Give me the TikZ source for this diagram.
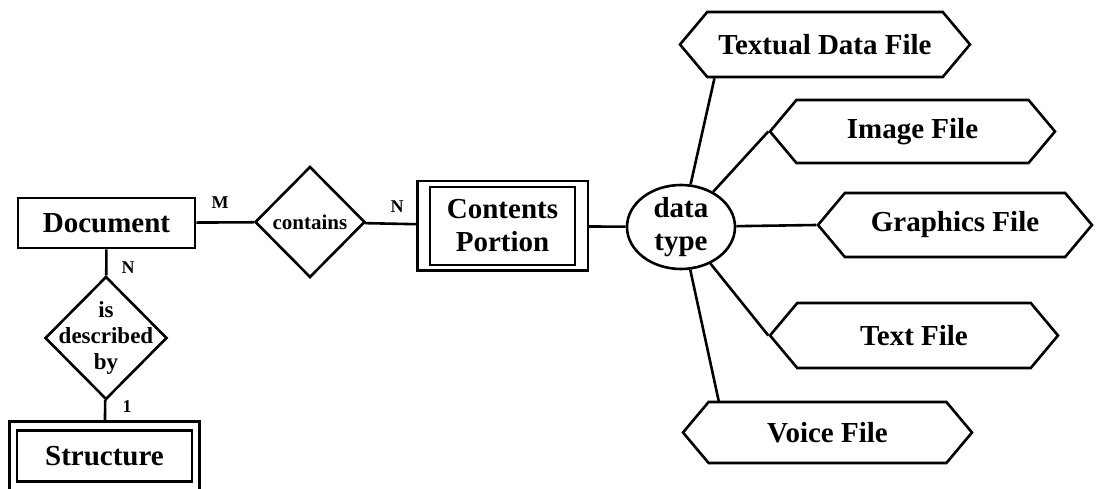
\documentclass[tikz,border=0pt]{standalone}
\usepackage{fontspec}
\setmainfont{Liberation Serif}
\usetikzlibrary{shapes.geometric, shapes.symbols, fit}

\begin{document}
\begin{tikzpicture}[x=1pt, y=-1pt, line width=2.6pt,
     every node/.style={font=\bfseries\fontsize{29}{33}\selectfont, inner sep=0pt, align=center},
     entity/.style={rectangle, draw},
     relation/.style={diamond, draw, shape aspect=1},
     attrib/.style={ellipse, draw},
     filekind/.style={signal, draw, signal to=west and east, signal pointer angle=100},
     card/.style={font=\bfseries\fontsize{18}{20}\selectfont}]
     \useasboundingbox (0,0) rectangle (1096,489);
     \clip (0,0) rectangle (1096,489);

     \node[entity, minimum width=177pt, minimum height=50pt] (doc) at (106.5,223) {Document};
     \node[relation, minimum width=110pt, minimum height=111pt, font=\bfseries\fontsize{21}{24}\selectfont] (cont) at (310,222) {contains};
     % the text runs right up to the corners here
     \node[relation, minimum width=122pt, minimum height=123pt, inner sep=-16pt, font=\bfseries\fontsize{23}{26}\selectfont] (desc) at (106,338) {is\\described\\by};
     \node[entity, minimum width=175pt, minimum height=51pt] (st) at (104.5,456) {Structure};
     \node[draw, fit=(st), inner xsep=6pt, inner ysep=8pt] (sto) {};
     \node[entity, minimum width=145pt, minimum height=78pt] (cp) at (502.5,226) {Contents\\Portion};
     \node[draw, fit=(cp), inner xsep=11.5pt, inner ysep=4.5pt] (cpo) {};
     \node[attrib, minimum width=108pt, minimum height=84pt] (dt) at (681,227) {data\\type};

     % kinds of data file
     \node[filekind, minimum width=290pt, minimum height=65pt] (tdf) at (825,44.5) {Textual Data File};
     \node[filekind, minimum width=285pt, minimum height=63pt] (imf) at (912.5,131.5) {Image File};
     \node[filekind, minimum width=274pt, minimum height=64pt] (gf) at (955,225) {Graphics File};
     \node[filekind, minimum width=288pt, minimum height=65pt] (txf) at (914,335.5) {Text File};
     \node[filekind, minimum width=289pt, minimum height=61pt] (vf) at (827.5,432.5) {Voice File};

     % cardinalities
     \node[card] (cm) at (220,203) {M};
     \node[card] (cn) at (397,207) {N};
     \node[card] (dn) at (128,268) {N};
     \node[card] (d1) at (127,407) {1};

     \draw (doc) -- (cont);
     \draw (cont) -- (cpo);
     \draw (cpo) -- (dt);
     \draw (doc) -- (desc);
     \draw (desc) -- (sto);

     \draw (dt) -- (tdf.197);
     \draw (dt) -- (imf.west);
     \draw (dt) -- (gf.west);
     \draw (dt) -- (txf.west);
     \draw (dt) -- (vf.164);
 \end{tikzpicture}
\end{document}
